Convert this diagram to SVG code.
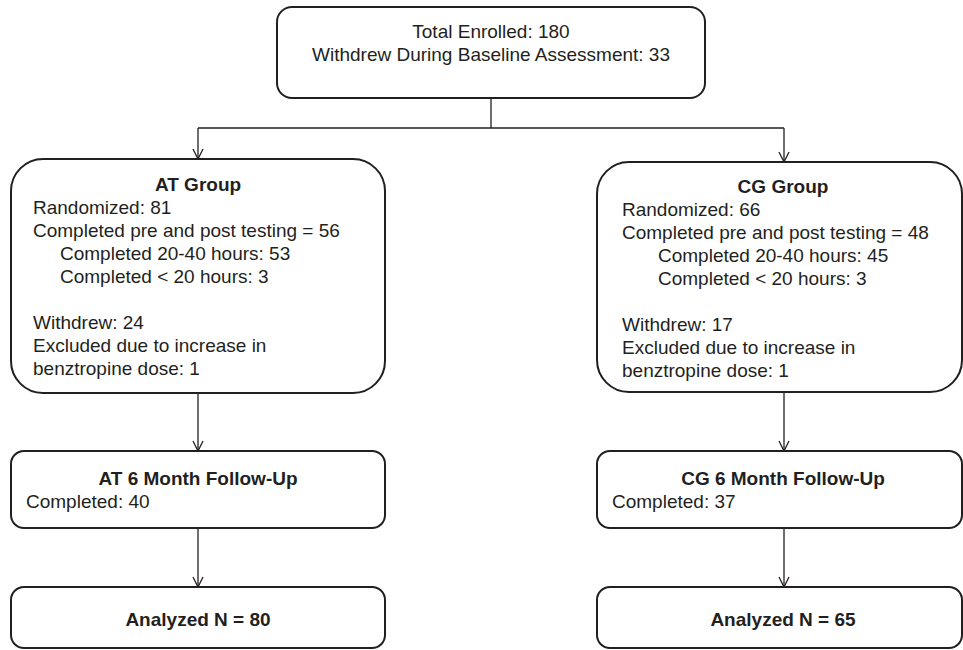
<svg xmlns="http://www.w3.org/2000/svg" width="963" height="650" viewBox="0 0 963 650">
  <style>
    .box { fill: #ffffff; stroke: #231f20; stroke-width: 2; }
    .wire { fill: none; stroke: #231f20; stroke-width: 1.3; }
    text { font-family: "Liberation Sans", Arial, sans-serif; font-size: 19px; fill: #231f20; }
    .b { font-weight: bold; }
    .c { text-anchor: middle; }
  </style>
  <defs>
    <!-- open chevron head, drawn along +x so orient="auto" turns it with the line -->
    <marker id="vee" markerWidth="12" markerHeight="12" refX="11" refY="6" orient="auto" markerUnits="userSpaceOnUse" viewBox="0 0 12 12">
      <path d="M1,1 L11,6 L1,11" fill="none" stroke="#231f20" stroke-width="1.3"/>
    </marker>
  </defs>
  <rect width="963" height="650" fill="#ffffff"/>

  <g id="connectors">
    <path class="wire" d="M491,98 V128"/>
    <path class="wire" d="M198,128 H784"/>
    <path class="wire" d="M198,128 V159" marker-end="url(#vee)"/>
    <path class="wire" d="M784,128 V162" marker-end="url(#vee)"/>
    <path class="wire" d="M198,393 V451" marker-end="url(#vee)"/>
    <path class="wire" d="M784,392 V451" marker-end="url(#vee)"/>
    <path class="wire" d="M198,528 V587" marker-end="url(#vee)"/>
    <path class="wire" d="M784,528 V587" marker-end="url(#vee)"/>
  </g>

  <g id="enrolled">
    <rect class="box" x="277" y="7" width="428" height="91" rx="15"/>
    <text class="c" x="491" y="38">Total Enrolled: 180</text>
    <text class="c" x="491" y="61">Withdrew During Baseline Assessment: 33</text>
  </g>

  <g id="at-group">
    <rect class="box" x="11" y="159" width="374" height="234" rx="32"/>
    <text class="b c" x="198" y="191">AT Group</text>
    <text x="33" y="214">Randomized: 81</text>
    <text x="33" y="237">Completed pre and post testing = 56</text>
    <text x="60" y="260">Completed 20-40 hours: 53</text>
    <text x="60" y="283">Completed &lt; 20 hours: 3</text>
    <text x="33" y="329">Withdrew: 24</text>
    <text x="33" y="352">Excluded due to increase in</text>
    <text x="33" y="375">benztropine dose: 1</text>
  </g>

  <g id="cg-group">
    <rect class="box" x="597" y="162" width="365" height="230" rx="32"/>
    <text class="b c" x="783" y="193">CG Group</text>
    <text x="622" y="216">Randomized: 66</text>
    <text x="622" y="239">Completed pre and post testing = 48</text>
    <text x="658" y="262">Completed 20-40 hours: 45</text>
    <text x="658" y="285">Completed &lt; 20 hours: 3</text>
    <text x="622" y="331">Withdrew: 17</text>
    <text x="622" y="354">Excluded due to increase in</text>
    <text x="622" y="377">benztropine dose: 1</text>
  </g>

  <g id="at-followup">
    <rect class="box" x="11" y="451" width="374" height="77" rx="13"/>
    <text class="b c" x="198" y="485">AT 6 Month Follow-Up</text>
    <text x="26" y="508">Completed: 40</text>
  </g>

  <g id="cg-followup">
    <rect class="box" x="597" y="451" width="365" height="77" rx="13"/>
    <text class="b c" x="783" y="485">CG 6 Month Follow-Up</text>
    <text x="612" y="508">Completed: 37</text>
  </g>

  <g id="at-analyzed">
    <rect class="box" x="11" y="587" width="374" height="61" rx="13"/>
    <text class="b c" x="198" y="626">Analyzed N = 80</text>
  </g>

  <g id="cg-analyzed">
    <rect class="box" x="597" y="587" width="365" height="61" rx="13"/>
    <text class="b c" x="783" y="626">Analyzed N = 65</text>
  </g>
</svg>
